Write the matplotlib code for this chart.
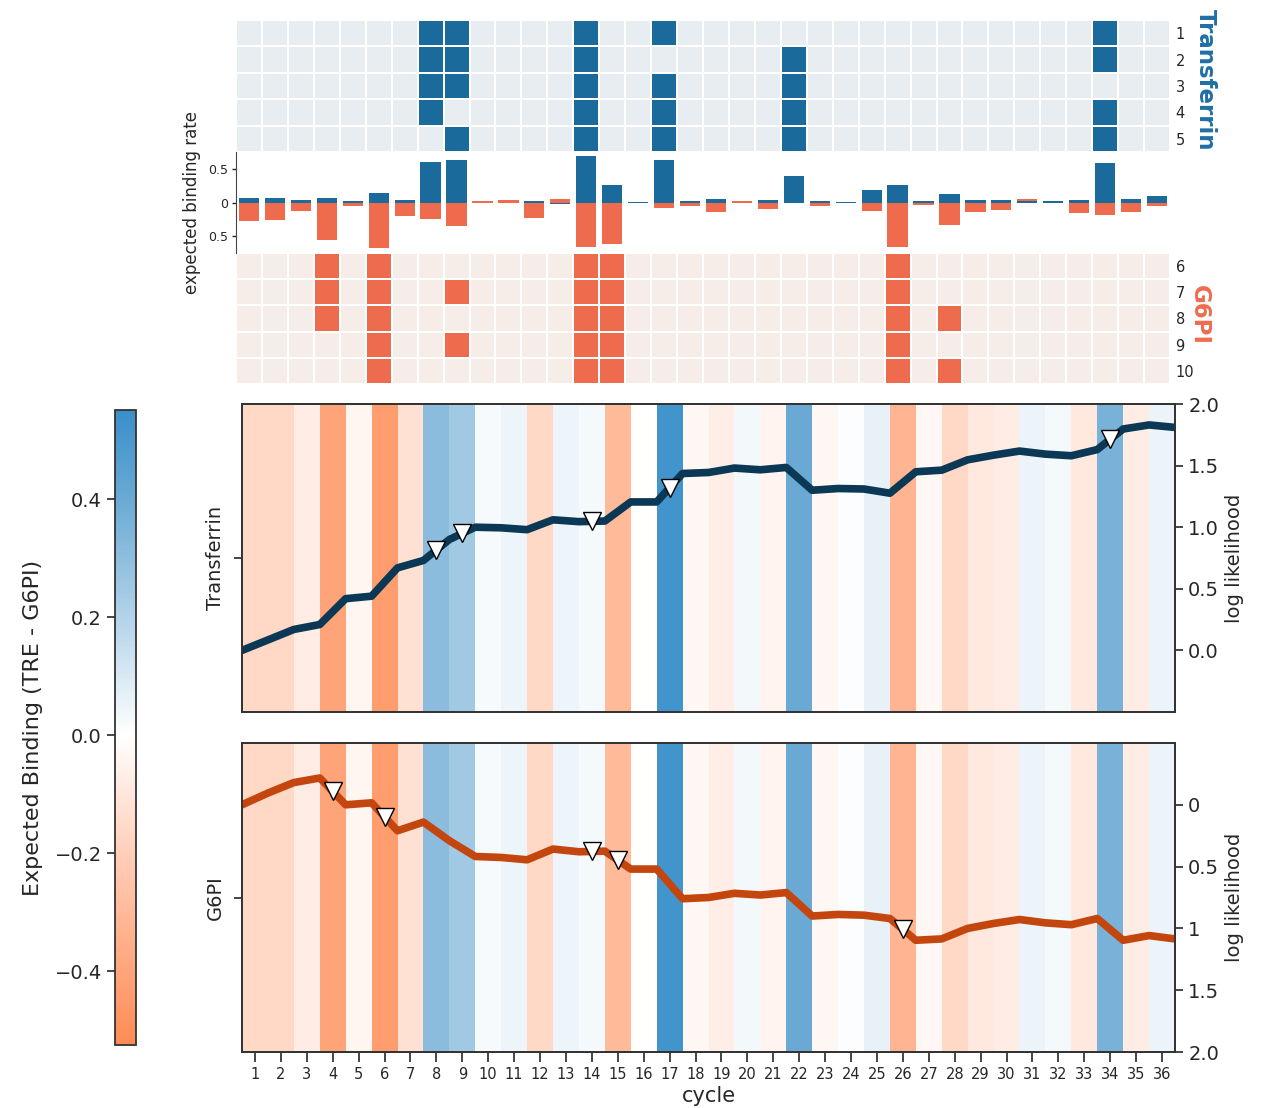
import numpy as np
import matplotlib
matplotlib.use("Agg")
import matplotlib.pyplot as plt
from matplotlib.colors import LinearSegmentedColormap, ListedColormap, Normalize
from matplotlib.cm import ScalarMappable

plt.rcParams["font.family"] = "DejaVu Sans"
plt.rcParams["text.color"] = "#262626"
plt.rcParams["axes.labelcolor"] = "#262626"
plt.rcParams["xtick.color"] = "#262626"
plt.rcParams["ytick.color"] = "#262626"

cycles = np.arange(1, 37)

# binding calls per read (cycles where the read bound)
tre_reads = [1, 2, 3, 4, 5]
tre_hits = [
    [8, 9, 14, 17, 34],
    [8, 9, 14, 22, 34],
    [8, 9, 14, 17, 22],
    [8, 14, 17, 22, 34],
    [9, 14, 17, 22, 34],
]
g6pi_reads = [6, 7, 8, 9, 10]
g6pi_hits = [
    [4, 6, 14, 15, 26],
    [4, 6, 9, 14, 15, 26],
    [4, 6, 14, 15, 26, 28],
    [6, 9, 14, 15, 26],
    [6, 14, 15, 26, 28],
]

# expected binding rate per cycle
tre_rate = [0.07, 0.07, 0.04, 0.07, 0.015, 0.145, 0.04, 0.595, 0.625, -0.005,
            -0.005, 0.025, -0.02, 0.685, 0.265, 0.01, 0.625, 0.025, 0.055, -0.005,
            0.04, 0.40, 0.025, 0.01, 0.19, 0.265, 0.015, 0.13, 0.04, 0.04,
            0.02, 0.02, 0.04, 0.58, 0.055, 0.10]
g6pi_rate = [0.27, 0.26, 0.12, 0.555, 0.045, 0.675, 0.195, 0.24, 0.345, -0.025,
             -0.03, 0.23, -0.055, 0.665, 0.615, 0.0, 0.075, 0.045, 0.135, -0.02,
             0.095, 0.0, 0.05, 0.0, 0.125, 0.665, 0.035, 0.335, 0.14, 0.11,
             -0.055, 0.0, 0.15, 0.185, 0.135, 0.05]

# expected binding difference (TRE - G6PI) shown behind the likelihood traces
binding_diff = [-0.16, -0.16, -0.075, -0.41, -0.04, -0.44, -0.125, 0.31, 0.247, 0.024,
                0.045, -0.16, 0.045, 0.026, -0.30, 0.0, 0.523, -0.03, -0.07, 0.03,
                -0.045, 0.40, -0.03, 0.01, 0.06, -0.324, -0.03, -0.16, -0.095, -0.075,
                0.05, 0.026, -0.095, 0.36, -0.075, 0.05]

# cumulative log likelihood, starting value followed by one value per cycle
tre_loglik = [0.0, 0.085, 0.17, 0.21, 0.42, 0.44, 0.67, 0.73, 0.90, 1.00,
              0.995, 0.98, 1.06, 1.045, 1.05, 1.205, 1.205, 1.436, 1.444, 1.48,
              1.466, 1.485, 1.30, 1.314, 1.31, 1.276, 1.45, 1.463, 1.547, 1.585,
              1.618, 1.593, 1.58, 1.63, 1.797, 1.83, 1.81]
g6pi_loglik = [0.0, -0.095, -0.18, -0.217, 0.0, -0.016, 0.21, 0.14, 0.29, 0.418,
               0.426, 0.445, 0.358, 0.38, 0.375, 0.52, 0.52, 0.76, 0.75, 0.716,
               0.73, 0.71, 0.90, 0.887, 0.893, 0.92, 1.096, 1.085, 1.0, 0.96,
               0.928, 0.955, 0.97, 0.92, 1.096, 1.058, 1.085]
tre_marks = [8, 9, 14, 17, 34]
g6pi_marks = [4, 6, 14, 15, 26]

loglik_ticks = [0.0, 0.5, 1.0, 1.5, 2.0]
g6pi_tick_labels = ["0", "0.5", "1", "1.5", "2.0"]

tre_dark, tre_light = "#1b6a9c", "#e8edf1"
g6_dark, g6_light = "#ef6b4e", "#f6ede9"
edge = "#333333"

W, H = 1261, 1108
fig = plt.figure(figsize=(W / 100, H / 100), dpi=100)


def box(x0, y0, x1, y1):
    return [x0 / W, 1 - y1 / H, (x1 - x0) / W, (y1 - y0) / H]


def hit_matrix(hits):
    m = np.zeros((len(hits), len(cycles)))
    for r, row in enumerate(hits):
        m[r, np.array(row) - 1] = 1
    return m


def read_heatmap(rect, hits, reads, light, dark):
    ax = fig.add_axes(rect)
    ax.pcolormesh(np.arange(37), np.arange(len(reads) + 1), hit_matrix(hits),
                  cmap=ListedColormap([light, dark]), vmin=0, vmax=1,
                  edgecolors="white", linewidth=1.1)
    ax.set_xlim(0, 36)
    ax.set_ylim(len(reads), 0)
    ax.set_xticks([])
    ax.yaxis.tick_right()
    ax.set_yticks(np.arange(len(reads)) + 0.5, reads)
    ax.tick_params(axis="y", length=0, labelsize=10.5, pad=4)
    for s in ax.spines.values():
        s.set_visible(False)
    return ax


read_heatmap(box(236, 20, 1170, 152), tre_hits, tre_reads, tre_light, tre_dark)
read_heatmap(box(236, 253, 1170, 384), g6pi_hits, g6pi_reads, g6_light, g6_dark)

# binding rate bars: transferrin up, G6PI down
ax_bar = fig.add_axes(box(236, 152, 1170, 253))
ax_bar.bar(cycles - 0.5, -np.array(g6pi_rate), width=0.78, color=g6_dark)
ax_bar.bar(cycles - 0.5, tre_rate, width=0.78, color=tre_dark)
ax_bar.set_xlim(0, 36)
ax_bar.set_ylim(-0.75, 0.75)
ax_bar.set_xticks([])
ax_bar.set_yticks([0.5, 0, -0.5], ["0.5", "0", "0.5"])
ax_bar.tick_params(axis="y", labelsize=9, length=3, width=1, pad=3)
for k in ["top", "right", "bottom"]:
    ax_bar.spines[k].set_visible(False)
ax_bar.spines["left"].set_color("#444444")
ax_bar.set_ylabel("expected binding rate", fontsize=12, labelpad=5)

fig.text(1205 / W, 1 - 80 / H, "Transferrin", rotation=270, fontsize=16.5,
         fontweight="bold", color="#1f6fa6", ha="center", va="center")
fig.text(1199 / W, 1 - 315 / H, "G6PI", rotation=270, fontsize=16.5,
         fontweight="bold", color=g6_dark, ha="center", va="center")

# diverging map for the difference in expected binding
vmin, vmax = -0.525, 0.551
stops = [(-0.525, "#ff8b54"), (-0.4, "#ffa57b"), (-0.2, "#ffcfb9"), (0.0, "#ffffff"),
         (0.2, "#b3d3e9"), (0.4, "#6aaad4"), (0.551, "#3a8fca")]
cmap = LinearSegmentedColormap.from_list(
    "binding", [((v - vmin) / (vmax - vmin), c) for v, c in stops])
norm = Normalize(vmin=vmin, vmax=vmax)

panels = [
    (box(242, 404, 1175, 712), "Transferrin", tre_loglik, tre_marks, "#0a3855", False),
    (box(242, 743, 1175, 1052), "G6PI", g6pi_loglik, g6pi_marks, "#c4460f", True),
]
steps = np.arange(len(cycles) + 1)
for rect, name, loglik, marks, color, bottom in panels:
    ax = fig.add_axes(rect)
    ax.pcolormesh(steps, [0, 1], np.array(binding_diff)[None, :], cmap=cmap, norm=norm)
    ax.set_xlim(0, 36)
    ax.set_ylim(0, 1)
    ax.set_yticks([0.5], [name], rotation=90, va="center", fontsize=14)
    ax.tick_params(axis="y", length=6, width=1.2, pad=6)
    if bottom:
        ax.set_xticks(cycles - 0.5, cycles, fontsize=10.5)
        ax.tick_params(axis="x", length=7, width=1.2, pad=4)
        ax.set_xlabel("cycle", fontsize=15, labelpad=3)
    else:
        ax.set_xticks([])

    tw = ax.twinx()
    tw.plot(steps, loglik, color=color, lw=5.5, zorder=2)
    mx = np.array(marks) - 0.5
    tw.plot(mx, np.interp(mx, steps, loglik), "v", ms=13, mfc="white", mec="black",
            mew=1, ls="none", zorder=3)
    if bottom:
        tw.set_ylim(2.0, -0.5)
        tw.set_yticks(loglik_ticks, g6pi_tick_labels)
    else:
        tw.set_ylim(-0.5, 2.0)
        tw.set_yticks(loglik_ticks, [f"{t:.1f}" for t in loglik_ticks])
    tw.tick_params(axis="y", labelsize=14, length=6, width=1.2)
    tw.set_ylabel("log likelihood", fontsize=14)
    for a in (ax, tw):
        for s in a.spines.values():
            s.set_color(edge)
            s.set_linewidth(1.3)

cax = fig.add_axes(box(115, 410, 136, 1045))
cb = fig.colorbar(ScalarMappable(norm=norm, cmap=cmap), cax=cax)
cb.set_ticks([-0.4, -0.2, 0.0, 0.2, 0.4])
cax.yaxis.set_ticks_position("left")
cax.yaxis.set_label_position("left")
cax.tick_params(labelsize=14, length=6, width=1.2)
cb.set_label("Expected Binding (TRE - G6PI)", fontsize=16, labelpad=8)
cb.outline.set_edgecolor(edge)
cb.outline.set_linewidth(1.3)

fig.savefig("out.png", dpi=100)
